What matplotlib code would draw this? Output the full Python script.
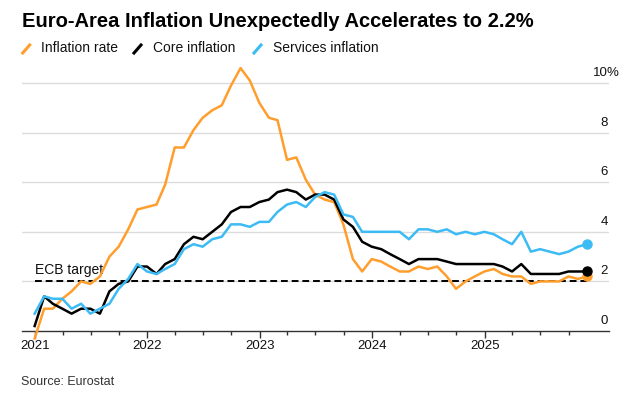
import matplotlib
matplotlib.use("Agg")
import matplotlib.pyplot as plt
from matplotlib.lines import Line2D
import pandas as pd

plt.rcParams['font.family'] = ['Liberation Sans', 'DejaVu Sans']

# ------------------------------
# DADOS (Dez 2020 - Nov 2025, % a/a)
# ------------------------------
meses = pd.date_range("2020-12-31", periods=60, freq="ME")

inflacao = [-0.3,
            0.9, 0.9, 1.3, 1.6, 2.0, 1.9, 2.2, 3.0, 3.4, 4.1, 4.9, 5.0,
            5.1, 5.9, 7.4, 7.4, 8.1, 8.6, 8.9, 9.1, 9.9, 10.6, 10.1, 9.2,
            8.6, 8.5, 6.9, 7.0, 6.1, 5.5, 5.3, 5.2, 4.3, 2.9, 2.4, 2.9,
            2.8, 2.6, 2.4, 2.4, 2.6, 2.5, 2.6, 2.2, 1.7, 2.0, 2.2, 2.4,
            2.5, 2.3, 2.2, 2.2, 1.9, 2.0, 2.0, 2.0, 2.2, 2.1, 2.2]

nucleo = [0.2,
          1.4, 1.1, 0.9, 0.7, 0.9, 0.9, 0.7, 1.6, 1.9, 2.0, 2.6, 2.6,
          2.3, 2.7, 2.9, 3.5, 3.8, 3.7, 4.0, 4.3, 4.8, 5.0, 5.0, 5.2,
          5.3, 5.6, 5.7, 5.6, 5.3, 5.5, 5.5, 5.3, 4.5, 4.2, 3.6, 3.4,
          3.3, 3.1, 2.9, 2.7, 2.9, 2.9, 2.9, 2.8, 2.7, 2.7, 2.7, 2.7,
          2.7, 2.6, 2.4, 2.7, 2.3, 2.3, 2.3, 2.3, 2.4, 2.4, 2.4]

servicos = [0.7,
            1.4, 1.3, 1.3, 0.9, 1.1, 0.7, 0.9, 1.1, 1.7, 2.1, 2.7, 2.4,
            2.3, 2.5, 2.7, 3.3, 3.5, 3.4, 3.7, 3.8, 4.3, 4.3, 4.2, 4.4,
            4.4, 4.8, 5.1, 5.2, 5.0, 5.4, 5.6, 5.5, 4.7, 4.6, 4.0, 4.0,
            4.0, 4.0, 4.0, 3.7, 4.1, 4.1, 4.0, 4.1, 3.9, 4.0, 3.9, 4.0,
            3.9, 3.7, 3.5, 4.0, 3.2, 3.3, 3.2, 3.1, 3.2, 3.4, 3.5]

meta_bce = 2.0
anos = [2021, 2022, 2023, 2024, 2025]
niveis_y = [0, 2, 4, 6, 8, 10]

LARANJA = "#FF9E2C"
PRETO = "#000000"
AZUL = "#3CBBF4"

# ------------------------------
# FIGURA
# ------------------------------
fig = plt.figure(figsize=(6.4, 3.98), dpi=100)
ax = fig.add_axes([0.0344, 0.1683, 0.9172, 0.6855])

# grade horizontal
for v in niveis_y[1:]:
    ax.axhline(v, color="#dcdcdc", lw=1, zorder=0)

# meta do BCE
ax.plot([meses[0], meses[-1]], [meta_bce, meta_bce], color="black",
        lw=1.4, ls=(0, (3.5, 2)), zorder=1)
ax.text(meses[0], meta_bce + 0.17, "ECB target", fontsize=10,
        ha="left", va="bottom", color="#111111")

# séries
ax.plot(meses, inflacao, color=LARANJA, lw=1.8, clip_on=False, zorder=3)
ax.plot(meses, nucleo, color=PRETO, lw=1.8, clip_on=False, zorder=4)
ax.plot(meses, servicos, color=AZUL, lw=1.8, clip_on=False, zorder=5)
ax.plot(meses[-1], inflacao[-1], "o", color=LARANJA, ms=6.5, zorder=3)
ax.plot(meses[-1], nucleo[-1], "o", color=PRETO, ms=6.5, zorder=4)
ax.plot(meses[-1], servicos[-1], "o", color=AZUL, ms=6.5, zorder=5)

ax.set_ylim(0, 11)
ax.set_xlim(pd.Timestamp("2020-11-20"), pd.Timestamp("2026-02-09"))

# eixos
for s in ["top", "right", "left"]:
    ax.spines[s].set_visible(False)
ax.spines["bottom"].set_color("#333333")
ax.spines["bottom"].set_linewidth(1)
ax.set_yticks([])

ax.set_xticks([pd.Timestamp(f"{a}-01-01") for a in anos])
ax.set_xticklabels([str(a) for a in anos])
trimestres = pd.date_range("2021-01-01", "2025-10-01", freq="QS")
ax.set_xticks(trimestres, minor=True)
ax.tick_params(axis="x", which="major", length=5, width=1, color="#333333",
               pad=1.5, labelsize=9.5, labelcolor="#111111")
ax.tick_params(axis="x", which="minor", length=3, width=1, color="#333333")

# rótulos do eixo y à direita
for v in niveis_y:
    ax.annotate(str(v), xy=(1.0, v), xycoords=("axes fraction", "data"),
                xytext=(-1, 5), textcoords="offset points",
                ha="right", va="baseline", fontsize=9.5, color="#111111")
ax.annotate("%", xy=(1.0, 10), xycoords=("axes fraction", "data"),
            xytext=(-1.5, 5), textcoords="offset points",
            ha="left", va="baseline", fontsize=9.5, color="#111111")

# título e legenda
fig.text(22 / 640, 1 - 21.5 / 398,
         "Euro-Area Inflation Unexpectedly Accelerates to 2.2%",
         fontsize=14.5, fontweight="bold", ha="left", va="center")

itens = [(22.7, 41, LARANJA, "Inflation rate"),
         (134, 153, PRETO, "Core inflation"),
         (254, 273, AZUL, "Services inflation")]
for x0, xt, cor, rotulo in itens:
    fig.add_artist(Line2D([x0 / 640, (x0 + 7) / 640],
                          [1 - 53 / 398, 1 - 45 / 398],
                          color=cor, lw=2.2, transform=fig.transFigure))
    fig.text(xt / 640, 1 - 48.5 / 398, rotulo, fontsize=10,
             ha="left", va="center", color="#111111")

fig.text(21 / 640, 1 - 382 / 398, "Source: Eurostat", fontsize=9,
         ha="left", va="center", color="#333333")

fig.savefig("out.png", dpi=100)
